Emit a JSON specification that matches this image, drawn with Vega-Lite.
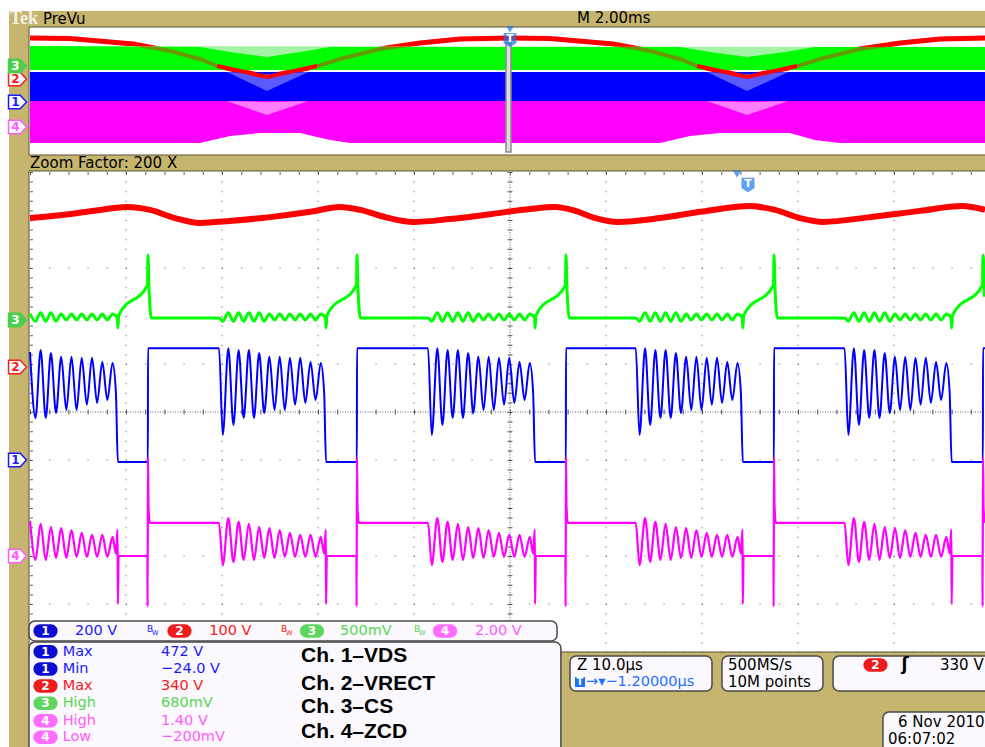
{
"$schema": "https://vega.github.io/schema/vega-lite/v6.json",
"width": 976, "height": 736, "autosize": "none",
"padding": {"left": 9, "top": 11, "right": 0, "bottom": 0},
"background": "#ffffff",
"view": {"fill": "#c5b56e", "stroke": null},
"datasets": {
"red": [{"t":0,"v":4.04},{"t":3.13,"v":4.1},{"t":7.29,"v":4.21},{"t":10.1,"v":4.27},{"t":12.5,"v":4.21},{"t":15.1,"v":4.04},{"t":17.7,"v":3.94},{"t":20.8,"v":3.98},{"t":25.0,"v":4.06},{"t":29.2,"v":4.17},{"t":32.3,"v":4.27},{"t":34.4,"v":4.21},{"t":37.0,"v":4.06},{"t":39.9,"v":3.96},{"t":43.75,"v":4.02},{"t":47.9,"v":4.12},{"t":52.1,"v":4.23},{"t":54.7,"v":4.27},{"t":56.8,"v":4.19},{"t":58.9,"v":4.04},{"t":61.25,"v":3.96},{"t":65.6,"v":4.04},{"t":69.8,"v":4.17},{"t":75.0,"v":4.29},{"t":77.6,"v":4.21},{"t":80.2,"v":4.04},{"t":82.6,"v":3.96},{"t":87.5,"v":4.06},{"t":92.7,"v":4.19},{"t":97.1,"v":4.29},{"t":99.48,"v":4.21}],
"green": [{"t":0,"v":2.05},{"t":0.57,"v":1.89},{"t":1.11,"v":2.07},{"t":1.64,"v":1.89},{"t":2.18,"v":2.07},{"t":2.71,"v":1.89},{"t":3.25,"v":2.04},{"t":3.78,"v":1.92},{"t":4.32,"v":2.04},{"t":4.85,"v":1.92},{"t":5.39,"v":2.04},{"t":5.92,"v":1.92},{"t":6.46,"v":2.04},{"t":6.99,"v":1.92},{"t":7.53,"v":2.04},{"t":8.06,"v":1.92},{"t":8.6,"v":2.04},{"t":9.1,"v":1.96},{"t":9.15,"v":1.75},{"t":9.25,"v":2.02},{"t":12.24,"v":2.65},{"t":12.29,"v":3.27},{"t":12.4,"v":2.55},{"t":12.65,"v":1.96},
{"t":19.69,"v":1.96},{"t":20.08,"v":1.89},{"t":20.66,"v":2.07},{"t":21.19,"v":1.89},{"t":21.73,"v":2.07},{"t":22.26,"v":1.89},{"t":22.8,"v":2.07},{"t":23.33,"v":1.89},{"t":23.87,"v":2.07},{"t":24.4,"v":1.89},{"t":24.94,"v":2.04},{"t":25.47,"v":1.92},{"t":26.01,"v":2.04},{"t":26.54,"v":1.92},{"t":27.08,"v":2.04},{"t":27.61,"v":1.92},{"t":28.15,"v":2.04},{"t":28.68,"v":1.92},{"t":29.22,"v":2.04},{"t":29.75,"v":1.92},{"t":30.29,"v":2.04},{"t":30.79,"v":1.96},{"t":30.84,"v":1.75},{"t":30.94,"v":2.02},{"t":34.01,"v":2.65},{"t":34.06,"v":3.27},{"t":34.17,"v":2.55},{"t":34.42,"v":1.96},
{"t":41.46,"v":1.96},{"t":41.85,"v":1.89},{"t":42.43,"v":2.07},{"t":42.96,"v":1.89},{"t":43.5,"v":2.07},{"t":44.03,"v":1.89},{"t":44.57,"v":2.07},{"t":45.1,"v":1.89},{"t":45.64,"v":2.07},{"t":46.17,"v":1.89},{"t":46.71,"v":2.04},{"t":47.24,"v":1.92},{"t":47.78,"v":2.04},{"t":48.31,"v":1.92},{"t":48.85,"v":2.04},{"t":49.38,"v":1.92},{"t":49.92,"v":2.04},{"t":50.45,"v":1.92},{"t":50.99,"v":2.04},{"t":51.52,"v":1.92},{"t":52.06,"v":2.04},{"t":52.56,"v":1.96},{"t":52.61,"v":1.75},{"t":52.71,"v":2.02},{"t":55.78,"v":2.65},{"t":55.83,"v":3.27},{"t":55.94,"v":2.55},{"t":56.19,"v":1.96},
{"t":63.1,"v":1.96},{"t":63.49,"v":1.89},{"t":64.07,"v":2.07},{"t":64.6,"v":1.89},{"t":65.14,"v":2.07},{"t":65.67,"v":1.89},{"t":66.21,"v":2.07},{"t":66.74,"v":1.89},{"t":67.28,"v":2.07},{"t":67.81,"v":1.89},{"t":68.35,"v":2.04},{"t":68.88,"v":1.92},{"t":69.42,"v":2.04},{"t":69.95,"v":1.92},{"t":70.49,"v":2.04},{"t":71.02,"v":1.92},{"t":71.56,"v":2.04},{"t":72.09,"v":1.92},{"t":72.63,"v":2.04},{"t":73.16,"v":1.92},{"t":73.7,"v":2.04},{"t":74.2,"v":1.96},{"t":74.25,"v":1.75},{"t":74.35,"v":2.02},{"t":77.45,"v":2.65},{"t":77.5,"v":3.27},{"t":77.61,"v":2.55},{"t":77.86,"v":1.96},
{"t":84.85,"v":1.96},{"t":85.24,"v":1.89},{"t":85.82,"v":2.07},{"t":86.35,"v":1.89},{"t":86.89,"v":2.07},{"t":87.42,"v":1.89},{"t":87.96,"v":2.07},{"t":88.49,"v":1.89},{"t":89.03,"v":2.07},{"t":89.56,"v":1.89},{"t":90.1,"v":2.04},{"t":90.63,"v":1.92},{"t":91.17,"v":2.04},{"t":91.7,"v":1.92},{"t":92.24,"v":2.04},{"t":92.77,"v":1.92},{"t":93.31,"v":2.04},{"t":93.84,"v":1.92},{"t":94.38,"v":2.04},{"t":94.91,"v":1.92},{"t":95.45,"v":2.04},{"t":95.95,"v":1.96},{"t":96.0,"v":1.75},{"t":96.1,"v":2.02},{"t":99.22,"v":2.65},{"t":99.27,"v":3.27},{"t":99.4,"v":2.4}],
"blue": [{"t":0,"v":1.25},{"t":0.57,"v":-0.125},{"t":1.11,"v":1.29},{"t":1.64,"v":-0.125},{"t":2.18,"v":1.23},{"t":2.71,"v":-0.02},{"t":3.25,"v":1.15},{"t":3.78,"v":0.04},{"t":4.32,"v":1.15},{"t":4.85,"v":0.04},{"t":5.39,"v":1.13},{"t":5.92,"v":0.15},{"t":6.46,"v":1.13},{"t":6.99,"v":0.19},{"t":7.53,"v":1.04},{"t":8.06,"v":0.25},{"t":8.6,"v":1.02},{"t":8.95,"v":0.4},{"t":9.15,"v":-1.04},{"t":12.28,"v":-1.04},{"t":12.29,"v":1.33},
{"t":19.69,"v":1.33},{"t":20.08,"v":-0.48},{"t":20.66,"v":1.33},{"t":21.19,"v":-0.27},{"t":21.73,"v":1.29},{"t":22.26,"v":-0.125},{"t":22.8,"v":1.29},{"t":23.33,"v":-0.125},{"t":23.87,"v":1.23},{"t":24.4,"v":-0.02},{"t":24.94,"v":1.15},{"t":25.47,"v":0.04},{"t":26.01,"v":1.15},{"t":26.54,"v":0.04},{"t":27.08,"v":1.13},{"t":27.61,"v":0.15},{"t":28.15,"v":1.13},{"t":28.68,"v":0.19},{"t":29.22,"v":1.04},{"t":29.75,"v":0.25},{"t":30.29,"v":1.02},{"t":30.64,"v":0.4},{"t":30.84,"v":-1.04},{"t":34.05,"v":-1.04},{"t":34.06,"v":1.33},
{"t":41.46,"v":1.33},{"t":41.85,"v":-0.48},{"t":42.43,"v":1.33},{"t":42.96,"v":-0.27},{"t":43.5,"v":1.29},{"t":44.03,"v":-0.125},{"t":44.57,"v":1.29},{"t":45.1,"v":-0.125},{"t":45.64,"v":1.23},{"t":46.17,"v":-0.02},{"t":46.71,"v":1.15},{"t":47.24,"v":0.04},{"t":47.78,"v":1.15},{"t":48.31,"v":0.04},{"t":48.85,"v":1.13},{"t":49.38,"v":0.15},{"t":49.92,"v":1.13},{"t":50.45,"v":0.19},{"t":50.99,"v":1.04},{"t":51.52,"v":0.25},{"t":52.06,"v":1.02},{"t":52.41,"v":0.4},{"t":52.61,"v":-1.04},{"t":55.82,"v":-1.04},{"t":55.83,"v":1.33},
{"t":63.1,"v":1.33},{"t":63.49,"v":-0.48},{"t":64.07,"v":1.33},{"t":64.6,"v":-0.27},{"t":65.14,"v":1.29},{"t":65.67,"v":-0.125},{"t":66.21,"v":1.29},{"t":66.74,"v":-0.125},{"t":67.28,"v":1.23},{"t":67.81,"v":-0.02},{"t":68.35,"v":1.15},{"t":68.88,"v":0.04},{"t":69.42,"v":1.15},{"t":69.95,"v":0.04},{"t":70.49,"v":1.13},{"t":71.02,"v":0.15},{"t":71.56,"v":1.13},{"t":72.09,"v":0.19},{"t":72.63,"v":1.04},{"t":73.16,"v":0.25},{"t":73.7,"v":1.02},{"t":74.05,"v":0.4},{"t":74.25,"v":-1.04},{"t":77.49,"v":-1.04},{"t":77.5,"v":1.33},
{"t":84.85,"v":1.33},{"t":85.24,"v":-0.48},{"t":85.82,"v":1.33},{"t":86.35,"v":-0.27},{"t":86.89,"v":1.29},{"t":87.42,"v":-0.125},{"t":87.96,"v":1.29},{"t":88.49,"v":-0.125},{"t":89.03,"v":1.23},{"t":89.56,"v":-0.02},{"t":90.1,"v":1.15},{"t":90.63,"v":0.04},{"t":91.17,"v":1.15},{"t":91.7,"v":0.04},{"t":92.24,"v":1.13},{"t":92.77,"v":0.15},{"t":93.31,"v":1.13},{"t":93.84,"v":0.19},{"t":94.38,"v":1.04},{"t":94.91,"v":0.25},{"t":95.45,"v":1.02},{"t":95.8,"v":0.4},{"t":96.0,"v":-1.04},{"t":99.26,"v":-1.04},{"t":99.27,"v":1.33},{"t":99.48,"v":1.33}],
"magenta": [{"t":0,"v":-2.27},{"t":0.57,"v":-3.08},{"t":1.11,"v":-2.33},{"t":1.64,"v":-3.08},{"t":2.18,"v":-2.4},{"t":2.71,"v":-3.04},{"t":3.25,"v":-2.42},{"t":3.78,"v":-3.04},{"t":4.32,"v":-2.46},{"t":4.85,"v":-3.02},{"t":5.39,"v":-2.52},{"t":5.92,"v":-3.02},{"t":6.46,"v":-2.56},{"t":6.99,"v":-3.02},{"t":7.53,"v":-2.56},{"t":8.06,"v":-3.02},{"t":8.6,"v":-2.6},{"t":8.95,"v":-2.95},{"t":9.12,"v":-2.45},{"t":9.15,"v":-4.0},{"t":9.23,"v":-3.0},{"t":12.23,"v":-3.0},{"t":12.25,"v":-4.05},{"t":12.29,"v":-0.95},{"t":12.35,"v":-2.0},{"t":12.49,"v":-2.31},
{"t":19.69,"v":-2.31},{"t":20.08,"v":-3.19},{"t":20.66,"v":-2.21},{"t":21.19,"v":-3.125},{"t":21.73,"v":-2.29},{"t":22.26,"v":-3.08},{"t":22.8,"v":-2.33},{"t":23.33,"v":-3.08},{"t":23.87,"v":-2.4},{"t":24.4,"v":-3.04},{"t":24.94,"v":-2.42},{"t":25.47,"v":-3.04},{"t":26.01,"v":-2.46},{"t":26.54,"v":-3.02},{"t":27.08,"v":-2.52},{"t":27.61,"v":-3.02},{"t":28.15,"v":-2.56},{"t":28.68,"v":-3.02},{"t":29.22,"v":-2.56},{"t":29.75,"v":-3.02},{"t":30.29,"v":-2.6},{"t":30.64,"v":-2.95},{"t":30.81,"v":-2.45},{"t":30.84,"v":-4.0},{"t":30.92,"v":-3.0},{"t":34.0,"v":-3.0},{"t":34.02,"v":-4.05},{"t":34.06,"v":-0.95},{"t":34.12,"v":-2.0},{"t":34.26,"v":-2.31},
{"t":41.46,"v":-2.31},{"t":41.85,"v":-3.19},{"t":42.43,"v":-2.21},{"t":42.96,"v":-3.125},{"t":43.5,"v":-2.29},{"t":44.03,"v":-3.08},{"t":44.57,"v":-2.33},{"t":45.1,"v":-3.08},{"t":45.64,"v":-2.4},{"t":46.17,"v":-3.04},{"t":46.71,"v":-2.42},{"t":47.24,"v":-3.04},{"t":47.78,"v":-2.46},{"t":48.31,"v":-3.02},{"t":48.85,"v":-2.52},{"t":49.38,"v":-3.02},{"t":49.92,"v":-2.56},{"t":50.45,"v":-3.02},{"t":50.99,"v":-2.56},{"t":51.52,"v":-3.02},{"t":52.06,"v":-2.6},{"t":52.41,"v":-2.95},{"t":52.58,"v":-2.45},{"t":52.61,"v":-4.0},{"t":52.69,"v":-3.0},{"t":55.77,"v":-3.0},{"t":55.79,"v":-4.05},{"t":55.83,"v":-0.95},{"t":55.89,"v":-2.0},{"t":56.03,"v":-2.31},
{"t":63.1,"v":-2.31},{"t":63.49,"v":-3.19},{"t":64.07,"v":-2.21},{"t":64.6,"v":-3.125},{"t":65.14,"v":-2.29},{"t":65.67,"v":-3.08},{"t":66.21,"v":-2.33},{"t":66.74,"v":-3.08},{"t":67.28,"v":-2.4},{"t":67.81,"v":-3.04},{"t":68.35,"v":-2.42},{"t":68.88,"v":-3.04},{"t":69.42,"v":-2.46},{"t":69.95,"v":-3.02},{"t":70.49,"v":-2.52},{"t":71.02,"v":-3.02},{"t":71.56,"v":-2.56},{"t":72.09,"v":-3.02},{"t":72.63,"v":-2.56},{"t":73.16,"v":-3.02},{"t":73.7,"v":-2.6},{"t":74.05,"v":-2.95},{"t":74.22,"v":-2.45},{"t":74.25,"v":-4.0},{"t":74.33,"v":-3.0},{"t":77.44,"v":-3.0},{"t":77.46,"v":-4.05},{"t":77.5,"v":-0.95},{"t":77.56,"v":-2.0},{"t":77.7,"v":-2.31},
{"t":84.85,"v":-2.31},{"t":85.24,"v":-3.19},{"t":85.82,"v":-2.21},{"t":86.35,"v":-3.125},{"t":86.89,"v":-2.29},{"t":87.42,"v":-3.08},{"t":87.96,"v":-2.33},{"t":88.49,"v":-3.08},{"t":89.03,"v":-2.4},{"t":89.56,"v":-3.04},{"t":90.1,"v":-2.42},{"t":90.63,"v":-3.04},{"t":91.17,"v":-2.46},{"t":91.7,"v":-3.02},{"t":92.24,"v":-2.52},{"t":92.77,"v":-3.02},{"t":93.31,"v":-2.56},{"t":93.84,"v":-3.02},{"t":94.38,"v":-2.56},{"t":94.91,"v":-3.02},{"t":95.45,"v":-2.6},{"t":95.8,"v":-2.95},{"t":95.97,"v":-2.45},{"t":96.0,"v":-4.0},{"t":96.08,"v":-3.0},{"t":99.21,"v":-3.0},{"t":99.23,"v":-4.05},{"t":99.27,"v":-0.95},{"t":99.33,"v":-2.0},{"t":99.47,"v":-2.31}],
"pvRed": [{"seg":"a","tp":0,"vp":7.3125},{"seg":"a","tp":0.833,"vp":7.28},{"seg":"a","tp":2.15,"vp":6.94},{"seg":"a","tp":2.92,"vp":6.5},{"seg":"a","tp":3.54,"vp":6.0},{"seg":"a","tp":3.9,"vp":5.56},{"seg":"a","tp":4.94,"vp":4.875},{"seg":"a","tp":5.98,"vp":5.56},{"seg":"a","tp":6.46,"vp":6.0},{"seg":"a","tp":7.29,"vp":6.625},{"seg":"a","tp":8.125,"vp":7.0},{"seg":"a","tp":8.96,"vp":7.25},{"seg":"a","tp":10.0,"vp":7.3125},{"seg":"b","tp":10.0,"vp":7.3125},{"seg":"b","tp":10.83,"vp":7.28},{"seg":"b","tp":12.15,"vp":6.94},{"seg":"b","tp":12.92,"vp":6.5},{"seg":"b","tp":13.54,"vp":6.0},{"seg":"b","tp":13.9,"vp":5.56},{"seg":"b","tp":14.94,"vp":4.875},{"seg":"b","tp":15.98,"vp":5.56},{"seg":"b","tp":16.46,"vp":6.0},{"seg":"b","tp":17.29,"vp":6.625},{"seg":"b","tp":18.125,"vp":7.0},{"seg":"b","tp":18.96,"vp":7.25},{"seg":"b","tp":19.9,"vp":7.3125}],
"pvGreenL": [{"tp":0,"top":6.8125,"bot":5.3125},{"tp":19.9,"top":6.75,"bot":5.3125}],
"pvGreen": [{"tp":0,"top":6.8125,"bot":5.3125},{"tp":3.54,"top":6.75,"bot":5.3125},{"tp":4.17,"top":6.44,"bot":5.3125},{"tp":4.94,"top":6.125,"bot":5.3125},{"tp":5.625,"top":6.44,"bot":5.3125},{"tp":6.25,"top":6.75,"bot":5.3125},{"tp":13.54,"top":6.75,"bot":5.3125},{"tp":14.17,"top":6.44,"bot":5.3125},{"tp":14.94,"top":6.125,"bot":5.3125},{"tp":15.73,"top":6.44,"bot":5.3125},{"tp":16.35,"top":6.75,"bot":5.3125},{"tp":19.9,"top":6.75,"bot":5.3125}],
"pvBlue": [{"tp":0,"top":5.1875,"bot":3.375},{"tp":19.9,"top":5.1875,"bot":3.375}],
"pvBlueL": [{"seg":"a","tp":4.1,"top":5.1875,"bot":5.1875},{"seg":"a","tp":4.9375,"top":5.06,"bot":4.0},{"seg":"a","tp":5.8,"top":5.1875,"bot":5.1875},{"seg":"b","tp":14.1,"top":5.1875,"bot":5.1875},{"seg":"b","tp":14.94,"top":5.06,"bot":4.0},{"seg":"b","tp":15.8,"top":5.1875,"bot":5.1875}],
"pvMag": [{"tp":0,"top":3.375,"bot":0.75},{"tp":3.54,"top":3.375,"bot":0.75},{"tp":4.17,"top":3.375,"bot":1.1875},{"tp":4.79,"top":3.375,"bot":1.375},{"tp":5.625,"top":3.375,"bot":1.375},{"tp":6.25,"top":3.375,"bot":0.9375},{"tp":6.67,"top":3.375,"bot":0.75},{"tp":13.125,"top":3.375,"bot":0.75},{"tp":13.75,"top":3.375,"bot":1.1875},{"tp":14.375,"top":3.375,"bot":1.375},{"tp":15.83,"top":3.375,"bot":1.375},{"tp":16.35,"top":3.375,"bot":0.9375},{"tp":16.875,"top":3.375,"bot":0.75},{"tp":19.9,"top":3.375,"bot":0.75}],
"pvMagL": [{"seg":"a","tp":4.1,"top":3.375,"bot":3.375},{"seg":"a","tp":4.9375,"top":3.3,"bot":2.5},{"seg":"a","tp":5.8,"top":3.375,"bot":3.375},{"seg":"b","tp":14.1,"top":3.375,"bot":3.375},{"seg":"b","tp":14.94,"top":3.3,"bot":2.5},{"seg":"b","tp":15.8,"top":3.375,"bot":3.375}],
"badges": [{"v":6.9375,"ch":"2"},{"v":6.458,"ch":"1"},{"v":5.9375,"ch":"4"},{"v":7.208,"ch":"3"},{"v":1.917,"ch":"3"},{"v":0.9375,"ch":"2"},{"v":-1.0,"ch":"1"},{"v":-3.0,"ch":"4"}],
"boxes": [{"t":-0.104,"t2":54.9,"v":-4.354,"v2":-4.771},{"t":-0.104,"t2":55.3,"v":-4.792,"v2":-7.1},{"t":56.25,"t2":71.04,"v":-5.083,"v2":-5.8125},{"t":72.08,"t2":82.6,"v":-5.083,"v2":-5.8125},{"t":83.65,"t2":100.5,"v":-5.083,"v2":-5.8125},{"t":88.85,"t2":100.5,"v":-6.25,"v2":-7.1}],
"pills": [{"t":1.615,"v":-4.5625,"ch":"1"},{"t":15.57,"v":-4.5625,"ch":"2"},{"t":29.375,"v":-4.5625,"ch":"3"},{"t":43.23,"v":-4.5625,"ch":"4"},{"t":1.615,"v":-4.994,"ch":"1"},{"t":1.615,"v":-5.354,"ch":"1"},{"t":1.615,"v":-5.708,"ch":"2"},{"t":1.615,"v":-6.069,"ch":"3"},{"t":1.615,"v":-6.431,"ch":"4"},{"t":1.615,"v":-6.777,"ch":"4"},{"t":88.07,"v":-5.27,"ch":"2"}],
"uiText": [{"t":1.354,"v":8.1875,"text":"PreVu"},{"t":56.98,"v":8.208,"text":"M 2.00ms"},{"t":0,"v":5.1875,"text":"Zoom Factor: 200 X"},{"t":56.98,"v":-5.27,"text":"Z 10.0µs"},{"t":72.71,"v":-5.27,"text":"500MS/s"},{"t":72.71,"v":-5.625,"text":"10M points"},{"t":94.79,"v":-5.27,"text":"330 V"},{"t":90.42,"v":-6.46,"text":"6 Nov 2010"},{"t":89.375,"v":-6.815,"text":"06:07:02"}],
"chText": [{"t":4.6875,"v":-4.5625,"text":"200 V","ch":"1"},{"t":18.68,"v":-4.5625,"text":"100 V","ch":"2"},{"t":32.29,"v":-4.5625,"text":"500mV","ch":"3"},{"t":46.35,"v":-4.5625,"text":"2.00 V","ch":"4"},{"t":3.4,"v":-4.994,"text":"Max","ch":"1"},{"t":3.4,"v":-5.354,"text":"Min","ch":"1"},{"t":3.4,"v":-5.708,"text":"Max","ch":"2"},{"t":3.4,"v":-6.069,"text":"High","ch":"3"},{"t":3.4,"v":-6.431,"text":"High","ch":"4"},{"t":3.4,"v":-6.777,"text":"Low","ch":"4"},{"t":13.65,"v":-4.994,"text":"472 V","ch":"1"},{"t":13.65,"v":-5.354,"text":"−24.0 V","ch":"1"},{"t":13.65,"v":-5.708,"text":"340 V","ch":"2"},{"t":13.65,"v":-6.069,"text":"680mV","ch":"3"},{"t":13.65,"v":-6.431,"text":"1.40 V","ch":"4"},{"t":13.65,"v":-6.777,"text":"−200mV","ch":"4"},{"t":57.92,"v":-5.625,"text":"→▾−1.20000µs","ch":"T"}],
"bw": [{"t":12.19,"v":-4.52,"ch":"1"},{"t":26.15,"v":-4.52,"ch":"2"},{"t":40.0,"v":-4.52,"ch":"3"}],
"bigText": [{"t":28.23,"v":-5.202,"text":"Ch. 1–VDS"},{"t":28.23,"v":-5.792,"text":"Ch. 2–VRECT"},{"t":28.23,"v":-6.265,"text":"Ch. 3–CS"},{"t":28.23,"v":-6.798,"text":"Ch. 4–ZCD"}]
},
"layer": [
{"layer": [
 {"data":{"values":[{}]},"mark":{"type":"rect","fill":"#ffffff","stroke":"#5a5232","strokeWidth":1},
  "encoding":{"x":{"datum":-0.0208,"type":"quantitative","scale":{"domain":[-0.4375,19.8958],"nice":false,"zero":false},"axis":null},"x2":{"datum":19.95},
   "y":{"datum":8.0,"type":"quantitative","scale":{"domain":[-37,9],"nice":false,"zero":false},"axis":null},"y2":{"datum":0.0}}},
 {"data":{"name":"pvRed"},"mark":{"type":"line","color":"#ff0000","strokeWidth":5},
  "encoding":{"x":{"field":"tp","type":"quantitative","scale":{"domain":[-0.4375,19.8958],"nice":false,"zero":false},"axis":null},
   "y":{"field":"vp","type":"quantitative","scale":{"domain":[-37,9],"nice":false,"zero":false},"axis":null},"detail":{"field":"seg"}}},
 {"data":{"name":"pvGreenL"},"mark":{"type":"area","color":"#a4f2a4"},
  "encoding":{"x":{"field":"tp","type":"quantitative","scale":{"domain":[-0.4375,19.8958],"nice":false,"zero":false},"axis":null},
   "y":{"field":"top","type":"quantitative","scale":{"domain":[-37,9],"nice":false,"zero":false},"axis":null},"y2":{"field":"bot"}}},
 {"data":{"name":"pvGreen"},"mark":{"type":"area","color":"#00ff00"},
  "encoding":{"x":{"field":"tp","type":"quantitative","scale":{"domain":[-0.4375,19.8958],"nice":false,"zero":false},"axis":null},
   "y":{"field":"top","type":"quantitative","scale":{"domain":[-37,9],"nice":false,"zero":false},"axis":null},"y2":{"field":"bot"}}},
 {"data":{"name":"pvRed"},"mark":{"type":"line","color":"#ff0000","strokeWidth":4,"opacity":0.4},
  "encoding":{"x":{"field":"tp","type":"quantitative","scale":{"domain":[-0.4375,19.8958],"nice":false,"zero":false},"axis":null},
   "y":{"field":"vp","type":"quantitative","scale":{"domain":[-37,9],"nice":false,"zero":false},"axis":null},"detail":{"field":"seg"}}},
 {"data":{"name":"pvBlue"},"mark":{"type":"area","color":"#0000ff"},
  "encoding":{"x":{"field":"tp","type":"quantitative","scale":{"domain":[-0.4375,19.8958],"nice":false,"zero":false},"axis":null},
   "y":{"field":"top","type":"quantitative","scale":{"domain":[-37,9],"nice":false,"zero":false},"axis":null},"y2":{"field":"bot"}}},
 {"data":{"name":"pvBlueL"},"mark":{"type":"area","color":"#5a5aff"},
  "encoding":{"x":{"field":"tp","type":"quantitative","scale":{"domain":[-0.4375,19.8958],"nice":false,"zero":false},"axis":null},
   "y":{"field":"top","type":"quantitative","scale":{"domain":[-37,9],"nice":false,"zero":false},"axis":null},"y2":{"field":"bot"},"detail":{"field":"seg"}}},
 {"data":{"name":"pvMag"},"mark":{"type":"area","color":"#ff00ff"},
  "encoding":{"x":{"field":"tp","type":"quantitative","scale":{"domain":[-0.4375,19.8958],"nice":false,"zero":false},"axis":null},
   "y":{"field":"top","type":"quantitative","scale":{"domain":[-37,9],"nice":false,"zero":false},"axis":null},"y2":{"field":"bot"}}},
 {"data":{"name":"pvMagL"},"mark":{"type":"area","color":"#ff7cff"},
  "encoding":{"x":{"field":"tp","type":"quantitative","scale":{"domain":[-0.4375,19.8958],"nice":false,"zero":false},"axis":null},
   "y":{"field":"top","type":"quantitative","scale":{"domain":[-37,9],"nice":false,"zero":false},"axis":null},"y2":{"field":"bot"},"detail":{"field":"seg"}}},
 {"data":{"name":"pvRed"},"transform":[{"filter":{"field":"vp","lte":5.6}}],"mark":{"type":"line","color":"#ff0000","strokeWidth":4},
  "encoding":{"x":{"field":"tp","type":"quantitative","scale":{"domain":[-0.4375,19.8958],"nice":false,"zero":false},"axis":null},
   "y":{"field":"vp","type":"quantitative","scale":{"domain":[-37,9],"nice":false,"zero":false},"axis":null},"detail":{"field":"seg"}}},
 {"data":{"values":[{}]},"mark":{"type":"rect","fill":"#dedede","stroke":"#8c8c8c","strokeWidth":1.5},
  "encoding":{"x":{"datum":9.917,"type":"quantitative","scale":{"domain":[-0.4375,19.8958],"nice":false,"zero":false},"axis":null},"x2":{"datum":10.02},
   "y":{"datum":7.0,"type":"quantitative","scale":{"domain":[-37,9],"nice":false,"zero":false},"axis":null},"y2":{"datum":0.1875}}},
 {"data":{"values":[{}]},"mark":{"type":"point","shape":"triangle-down","filled":true,"size":60,"color":"#1e78e6"},
  "encoding":{"x":{"datum":10.0,"type":"quantitative","scale":{"domain":[-0.4375,19.8958],"nice":false,"zero":false},"axis":null},
   "y":{"datum":7.85,"type":"quantitative","scale":{"domain":[-37,9],"nice":false,"zero":false},"axis":null}}},
 {"data":{"values":[{}]},"mark":{"type":"point","shape":"M -0.9 -1 L 0.9 -1 L 0.9 0.45 L 0 1 L -0.9 0.45 Z","filled":true,"size":200,"color":"#1e78e6"},
  "encoding":{"x":{"datum":10.0,"type":"quantitative","scale":{"domain":[-0.4375,19.8958],"nice":false,"zero":false},"axis":null},
   "y":{"datum":7.19,"type":"quantitative","scale":{"domain":[-37,9],"nice":false,"zero":false},"axis":null}}},
 {"data":{"values":[{}]},"mark":{"type":"text","text":"T","font":"DejaVu Sans","fontWeight":"bold","fontSize":11,"color":"#ffffff","baseline":"middle","dy":-1},
  "encoding":{"x":{"datum":10.0,"type":"quantitative","scale":{"domain":[-0.4375,19.8958],"nice":false,"zero":false},"axis":null},
   "y":{"datum":7.19,"type":"quantitative","scale":{"domain":[-37,9],"nice":false,"zero":false},"axis":null}}}
]},
{"layer": [
 {"data":{"values":[{}]},"mark":{"type":"rect","fill":"#ffffff","stroke":"#5a5232","strokeWidth":1},
  "encoding":{"x":{"datum":-0.104,"type":"quantitative","scale":{"domain":[-2.1875,99.4792],"nice":false,"zero":false},"axis":null},"x2":{"datum":99.7},
   "y":{"datum":5.021,"type":"quantitative","scale":{"domain":[-6.9792,8.3542],"nice":false,"zero":false},"axis":null},"y2":{"datum":-5.0}}},
 {"data":{"values":[{"t":10},{"t":20},{"t":30},{"t":40},{"t":60},{"t":70},{"t":80},{"t":90}]},"mark":{"type":"rule","color":"#5c5c5c","strokeWidth":1.1,"strokeDash":[1,8.6]},
  "encoding":{"x":{"field":"t","type":"quantitative","scale":{"domain":[-2.1875,99.4792],"nice":false,"zero":false},"axis":null},
   "y":{"datum":5.0,"type":"quantitative","scale":{"domain":[-6.9792,8.3542],"nice":false,"zero":false},"axis":null},"y2":{"datum":-5.0}}},
 {"data":{"values":[{"v":3},{"v":1},{"v":-1},{"v":-3},{"v":-4},{"v":-5}]},"mark":{"type":"rule","color":"#5c5c5c","strokeWidth":1.1,"strokeDash":[1,18.2]},
  "encoding":{"x":{"datum":0,"type":"quantitative","scale":{"domain":[-2.1875,99.4792],"nice":false,"zero":false},"axis":null},"x2":{"datum":99.7},
   "y":{"field":"v","type":"quantitative","scale":{"domain":[-6.9792,8.3542],"nice":false,"zero":false},"axis":null}}},
 {"data":{"values":[{}]},"mark":{"type":"rule","color":"#5c5c5c","strokeWidth":3,"strokeDash":[1,18.2]},
  "encoding":{"x":{"datum":0,"type":"quantitative","scale":{"domain":[-2.1875,99.4792],"nice":false,"zero":false},"axis":null},"x2":{"datum":99.7},
   "y":{"datum":4.97,"type":"quantitative","scale":{"domain":[-6.9792,8.3542],"nice":false,"zero":false},"axis":null}}},
 {"data":{"values":[{}]},"mark":{"type":"rule","color":"#5c5c5c","strokeWidth":3,"strokeDash":[1,8.6]},
  "encoding":{"x":{"datum":0.15,"type":"quantitative","scale":{"domain":[-2.1875,99.4792],"nice":false,"zero":false},"axis":null},
   "y":{"datum":5.0,"type":"quantitative","scale":{"domain":[-6.9792,8.3542],"nice":false,"zero":false},"axis":null},"y2":{"datum":-5.0}}},
 {"data":{"values":[{}]},"mark":{"type":"rule","color":"#666666","strokeWidth":1,"strokeDash":[1,1.5]},
  "encoding":{"x":{"datum":50,"type":"quantitative","scale":{"domain":[-2.1875,99.4792],"nice":false,"zero":false},"axis":null},
   "y":{"datum":5.0,"type":"quantitative","scale":{"domain":[-6.9792,8.3542],"nice":false,"zero":false},"axis":null},"y2":{"datum":-5.0}}},
 {"data":{"values":[{}]},"mark":{"type":"rule","color":"#555555","strokeWidth":5,"strokeDash":[1,8.6]},
  "encoding":{"x":{"datum":50,"type":"quantitative","scale":{"domain":[-2.1875,99.4792],"nice":false,"zero":false},"axis":null},
   "y":{"datum":5.0,"type":"quantitative","scale":{"domain":[-6.9792,8.3542],"nice":false,"zero":false},"axis":null},"y2":{"datum":-5.0}}},
 {"data":{"values":[{}]},"mark":{"type":"rule","color":"#666666","strokeWidth":1,"strokeDash":[1,1.5]},
  "encoding":{"x":{"datum":0,"type":"quantitative","scale":{"domain":[-2.1875,99.4792],"nice":false,"zero":false},"axis":null},"x2":{"datum":99.7},
   "y":{"datum":0,"type":"quantitative","scale":{"domain":[-6.9792,8.3542],"nice":false,"zero":false},"axis":null}}},
 {"data":{"values":[{}]},"mark":{"type":"rule","color":"#555555","strokeWidth":5,"strokeDash":[1,18.2]},
  "encoding":{"x":{"datum":0,"type":"quantitative","scale":{"domain":[-2.1875,99.4792],"nice":false,"zero":false},"axis":null},"x2":{"datum":99.7},
   "y":{"datum":0,"type":"quantitative","scale":{"domain":[-6.9792,8.3542],"nice":false,"zero":false},"axis":null}}},
 {"data":{"name":"red"},"mark":{"type":"line","color":"#ff0000","strokeWidth":6,"interpolate":"monotone"},
  "encoding":{"x":{"field":"t","type":"quantitative","scale":{"domain":[-2.1875,99.4792],"nice":false,"zero":false},"axis":null},
   "y":{"field":"v","type":"quantitative","scale":{"domain":[-6.9792,8.3542],"nice":false,"zero":false},"axis":null}}},
 {"data":{"name":"green"},"mark":{"type":"line","color":"#00ff00","strokeWidth":3,"interpolate":"monotone"},
  "encoding":{"x":{"field":"t","type":"quantitative","scale":{"domain":[-2.1875,99.4792],"nice":false,"zero":false},"axis":null},
   "y":{"field":"v","type":"quantitative","scale":{"domain":[-6.9792,8.3542],"nice":false,"zero":false},"axis":null}}},
 {"data":{"name":"blue"},"mark":{"type":"line","color":"#0000ff","strokeWidth":2,"interpolate":"monotone"},
  "encoding":{"x":{"field":"t","type":"quantitative","scale":{"domain":[-2.1875,99.4792],"nice":false,"zero":false},"axis":null},
   "y":{"field":"v","type":"quantitative","scale":{"domain":[-6.9792,8.3542],"nice":false,"zero":false},"axis":null}}},
 {"data":{"name":"magenta"},"mark":{"type":"line","color":"#ff00ff","strokeWidth":2.2,"interpolate":"monotone"},
  "encoding":{"x":{"field":"t","type":"quantitative","scale":{"domain":[-2.1875,99.4792],"nice":false,"zero":false},"axis":null},
   "y":{"field":"v","type":"quantitative","scale":{"domain":[-6.9792,8.3542],"nice":false,"zero":false},"axis":null}}},
 {"data":{"values":[{}]},"mark":{"type":"point","shape":"triangle-down","filled":true,"size":70,"color":"#1e78e6"},
  "encoding":{"x":{"datum":73.65,"type":"quantitative","scale":{"domain":[-2.1875,99.4792],"nice":false,"zero":false},"axis":null},
   "y":{"datum":4.958,"type":"quantitative","scale":{"domain":[-6.9792,8.3542],"nice":false,"zero":false},"axis":null}}},
 {"data":{"values":[{}]},"mark":{"type":"point","shape":"M -0.9 -1 L 0.9 -1 L 0.9 0.45 L 0 1 L -0.9 0.45 Z","filled":true,"size":210,"color":"#1e78e6"},
  "encoding":{"x":{"datum":74.79,"type":"quantitative","scale":{"domain":[-2.1875,99.4792],"nice":false,"zero":false},"axis":null},
   "y":{"datum":4.729,"type":"quantitative","scale":{"domain":[-6.9792,8.3542],"nice":false,"zero":false},"axis":null}}},
 {"data":{"values":[{}]},"mark":{"type":"text","text":"T","font":"DejaVu Sans","fontWeight":"bold","fontSize":11,"color":"#ffffff","baseline":"middle","dy":-1},
  "encoding":{"x":{"datum":74.79,"type":"quantitative","scale":{"domain":[-2.1875,99.4792],"nice":false,"zero":false},"axis":null},
   "y":{"datum":4.729,"type":"quantitative","scale":{"domain":[-6.9792,8.3542],"nice":false,"zero":false},"axis":null}}},
 {"data":{"name":"badges"},"mark":{"type":"point","shape":"M -1 -0.75 L 0.3 -0.75 L 1 0 L 0.3 0.75 L -1 0.75 Z","filled":true,"size":324,"strokeWidth":1.5,"opacity":1},
  "encoding":{"x":{"datum":-1.3,"type":"quantitative","scale":{"domain":[-2.1875,99.4792],"nice":false,"zero":false},"axis":null},
   "y":{"field":"v","type":"quantitative","scale":{"domain":[-6.9792,8.3542],"nice":false,"zero":false},"axis":null},
   "fill":{"condition":{"test":"datum.ch === '3'","value":"#4ccf4c"},"value":"#ffffff"},
   "stroke":{"field":"ch","type":"nominal","scale":{"domain":["1","2","3","4"],"range":["#1a1aff","#f52020","#4ccf4c","#ff5cff"]},"legend":null}}},
 {"data":{"name":"badges"},"mark":{"type":"text","font":"DejaVu Sans","fontWeight":"bold","fontSize":12,"baseline":"middle","dx":-2},
  "encoding":{"x":{"datum":-1.3,"type":"quantitative","scale":{"domain":[-2.1875,99.4792],"nice":false,"zero":false},"axis":null},
   "y":{"field":"v","type":"quantitative","scale":{"domain":[-6.9792,8.3542],"nice":false,"zero":false},"axis":null},
   "text":{"field":"ch"},
   "color":{"condition":{"test":"datum.ch === '3'","value":"#ffffff"},"field":"ch","type":"nominal","scale":{"domain":["1","2","3","4","T"],"range":["#1a1aff","#f52020","#55d855","#ff5cff","#1e6eff"]},"legend":null}}},
 {"data":{"name":"boxes"},"mark":{"type":"rect","fill":"#fbf9fd","stroke":"#4a4a4a","strokeWidth":1.5,"cornerRadius":6},
  "encoding":{"x":{"field":"t","type":"quantitative","scale":{"domain":[-2.1875,99.4792],"nice":false,"zero":false},"axis":null},"x2":{"field":"t2"},
   "y":{"field":"v","type":"quantitative","scale":{"domain":[-6.9792,8.3542],"nice":false,"zero":false},"axis":null},"y2":{"field":"v2"}}},
 {"data":{"name":"pills"},"mark":{"type":"point","shape":"M -0.8 -1 L 0.8 -1 A 1 1 0 0 1 0.8 1 L -0.8 1 A 1 1 0 0 1 -0.8 -1 Z","filled":true,"size":180,"opacity":1},
  "encoding":{"x":{"field":"t","type":"quantitative","scale":{"domain":[-2.1875,99.4792],"nice":false,"zero":false},"axis":null},
   "y":{"field":"v","type":"quantitative","scale":{"domain":[-6.9792,8.3542],"nice":false,"zero":false},"axis":null},
   "fill":{"field":"ch","type":"nominal","scale":{"domain":["1","2","3","4"],"range":["#0c0cd2","#ee1c1c","#5cd65c","#ff6cff"]},"legend":null}}},
 {"data":{"name":"pills"},"mark":{"type":"text","font":"DejaVu Sans","fontWeight":"bold","fontSize":12,"baseline":"middle","color":"#ffffff"},
  "encoding":{"x":{"field":"t","type":"quantitative","scale":{"domain":[-2.1875,99.4792],"nice":false,"zero":false},"axis":null},
   "y":{"field":"v","type":"quantitative","scale":{"domain":[-6.9792,8.3542],"nice":false,"zero":false},"axis":null},
   "text":{"field":"ch"}}},
 {"data":{"name":"uiText"},"mark":{"type":"text","font":"DejaVu Sans","fontSize":15,"align":"left","baseline":"middle","color":"#000000"},
  "encoding":{"x":{"field":"t","type":"quantitative","scale":{"domain":[-2.1875,99.4792],"nice":false,"zero":false},"axis":null},
   "y":{"field":"v","type":"quantitative","scale":{"domain":[-6.9792,8.3542],"nice":false,"zero":false},"axis":null},
   "text":{"field":"text"}}},
 {"data":{"name":"chText"},"mark":{"type":"text","font":"DejaVu Sans","fontSize":14.5,"align":"left","baseline":"middle"},
  "encoding":{"x":{"field":"t","type":"quantitative","scale":{"domain":[-2.1875,99.4792],"nice":false,"zero":false},"axis":null},
   "y":{"field":"v","type":"quantitative","scale":{"domain":[-6.9792,8.3542],"nice":false,"zero":false},"axis":null},
   "text":{"field":"text"},
   "color":{"field":"ch","type":"nominal","scale":{"domain":["1","2","3","4","T"],"range":["#1a1aff","#f52020","#55d855","#ff5cff","#1e6eff"]},"legend":null}}},
 {"data":{"name":"bw"},"mark":{"type":"text","text":"B","font":"DejaVu Sans","fontSize":9,"align":"left","baseline":"middle"},
  "encoding":{"x":{"field":"t","type":"quantitative","scale":{"domain":[-2.1875,99.4792],"nice":false,"zero":false},"axis":null},
   "y":{"field":"v","type":"quantitative","scale":{"domain":[-6.9792,8.3542],"nice":false,"zero":false},"axis":null},
   "color":{"field":"ch","type":"nominal","scale":{"domain":["1","2","3","4","T"],"range":["#1a1aff","#f52020","#55d855","#ff5cff","#1e6eff"]},"legend":null}}},
 {"data":{"name":"bw"},"mark":{"type":"text","text":"W","font":"DejaVu Sans","fontSize":6.5,"align":"left","baseline":"middle","dx":5,"dy":4},
  "encoding":{"x":{"field":"t","type":"quantitative","scale":{"domain":[-2.1875,99.4792],"nice":false,"zero":false},"axis":null},
   "y":{"field":"v","type":"quantitative","scale":{"domain":[-6.9792,8.3542],"nice":false,"zero":false},"axis":null},
   "color":{"field":"ch","type":"nominal","scale":{"domain":["1","2","3","4","T"],"range":["#1a1aff","#f52020","#55d855","#ff5cff","#1e6eff"]},"legend":null}}},
 {"data":{"name":"bigText"},"mark":{"type":"text","font":"Liberation Sans","fontWeight":"bold","fontSize":21,"align":"left","baseline":"alphabetic","color":"#000000"},
  "encoding":{"x":{"field":"t","type":"quantitative","scale":{"domain":[-2.1875,99.4792],"nice":false,"zero":false},"axis":null},
   "y":{"field":"v","type":"quantitative","scale":{"domain":[-6.9792,8.3542],"nice":false,"zero":false},"axis":null},
   "text":{"field":"text"}}},
 {"data":{"values":[{}]},"mark":{"type":"text","text":"Tek","font":"Liberation Serif","fontWeight":"bold","fontSize":18,"align":"left","baseline":"middle","color":"#f3f0e6"},
  "encoding":{"x":{"datum":-2.12,"type":"quantitative","scale":{"domain":[-2.1875,99.4792],"nice":false,"zero":false},"axis":null},
   "y":{"datum":8.19,"type":"quantitative","scale":{"domain":[-6.9792,8.3542],"nice":false,"zero":false},"axis":null}}},
 {"data":{"values":[{}]},"mark":{"type":"point","shape":"square","filled":true,"size":100,"color":"#1e6eff","opacity":1},
  "encoding":{"x":{"datum":57.29,"type":"quantitative","scale":{"domain":[-2.1875,99.4792],"nice":false,"zero":false},"axis":null},
   "y":{"datum":-5.625,"type":"quantitative","scale":{"domain":[-6.9792,8.3542],"nice":false,"zero":false},"axis":null}}},
 {"data":{"values":[{}]},"mark":{"type":"text","text":"T","font":"DejaVu Sans","fontWeight":"bold","fontSize":10,"baseline":"middle","color":"#ffffff"},
  "encoding":{"x":{"datum":57.29,"type":"quantitative","scale":{"domain":[-2.1875,99.4792],"nice":false,"zero":false},"axis":null},
   "y":{"datum":-5.625,"type":"quantitative","scale":{"domain":[-6.9792,8.3542],"nice":false,"zero":false},"axis":null}}},
 {"data":{"values":[{}]},"mark":{"type":"text","text":"ʃ","font":"DejaVu Sans","fontWeight":"bold","fontSize":17,"baseline":"middle","color":"#000000"},
  "encoding":{"x":{"datum":91.15,"type":"quantitative","scale":{"domain":[-2.1875,99.4792],"nice":false,"zero":false},"axis":null},
   "y":{"datum":-5.27,"type":"quantitative","scale":{"domain":[-6.9792,8.3542],"nice":false,"zero":false},"axis":null}}}
]}
],
"resolve": {"scale": {"x": "independent", "y": "independent", "color": "independent", "fill": "independent", "stroke": "independent"}}
}
